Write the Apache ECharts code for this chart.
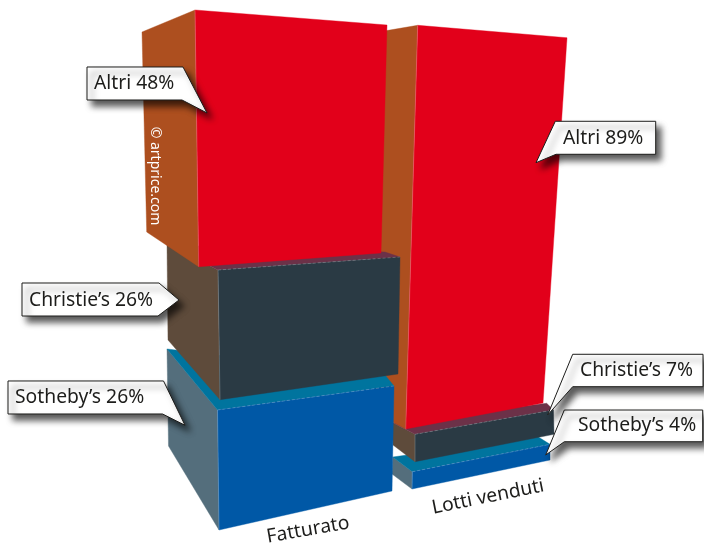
<!DOCTYPE html>
<html>
<head>
<meta charset="utf-8">
<style>html,body{margin:0;padding:0;background:#fff}#chart{width:704px;height:544px}</style>
<script src="https://cdn.jsdelivr.net/npm/echarts@6/dist/echarts.min.js"></script>
</head>
<body>
<div id="chart"></div>
<script>
// Market share of the auction houses, as exploded stacked blocks in perspective.
const categories = ['Fatturato', 'Lotti venduti'];
const houses = ['Sotheby’s', 'Christie’s', 'Altri'];
const sothebys = [26, 4];
const christies = [26, 7];
const altri = [48, 89];
const shares = [sothebys, christies, altri];

const FONT = '"Noto Sans", "Open Sans", sans-serif';

// Face colours per house: front, side, top.
const palette = [
  { front: '#0058a6', side: '#546e7c', top: '#00749e' },
  { front: '#2a3a44', side: '#5e4b3b', top: '#6c3148' },
  { front: '#e2001a', side: '#ad4f1f', top: '#6c3148' }
];

// Perspective frame of each block, indexed [column][house].
// at: shift of the front-bottom-left corner from the axis position.
// run: bottom edge of the front face. gain/lean: how the axis height is foreshortened
// on the left and right edges. depth: receding vectors for the side and top faces.
const frames = [
  [
    { at: [-1, 0], run: [173, -39], gain: [1.154, 1.01], lean: [-1.5, 2],
      depthBottom: [-50.5, -84], depthTop: [-50.5, -61], depthTopRight: [-9, -11] },
    { at: [0, -26.3], run: [178, -25.7], gain: [1.247, 1.125], lean: [-2, 2],
      depthBottom: [-52, -59.7], depthTop: [-51, -25], depthTopRight: [-15, -5] },
    { at: [-21.3, -55.3], run: [182.3, -13.7], gain: [1.337, 1.1875], lean: [-3.7, 6],
      depthBottom: [-52, -34.7], depthTop: [-53, 22] }
  ],
  [
    { at: [0, -41], run: [138, -29], gain: [1.08, 0.98], lean: [0.3, 0],
      depthBottom: [-20, -15], depthTop: [-19.6, -14.7], depthTopRight: [-12, -7.6] },
    { at: [3, -52.3], run: [139, -27.4], gain: [0.979, 0.868], lean: [0, -0.5],
      depthBottom: [-22, -16.7], depthTop: [-22, -11.6], depthTopRight: [-6.8, -6.7] },
    { at: [-6.3, -57], run: [137.3, -26], gain: [1.134, 1.026], lean: [12, 24],
      depthBottom: [-30.7, -16.5], depthTop: [-42.7, 7.3] }
  ]
];

// Paint order of the columns: the second one sits behind the first.
const columnRank = [1, 0];

// Callout outlines and text anchors, relative to the top-left corner of the block's front face.
const callouts = [
  [
    { outline: [[-209.5, -29], [-54, -29], [-32.5, 15.3], [-55, 4], [-209.5, 4]], textX: -202.5, textY: -12 },
    { outline: [[-196, 13], [-59, 13], [-39, 30], [-60, 46], [-196, 46]], textX: -189, textY: 30 },
    { outline: [[-108, 57], [-12, 57], [12, 103], [-13, 90], [-108, 90]], textX: -101, textY: 74 }
  ],
  [
    { outline: [[152, -61.7], [290.4, -61.7], [290.4, -30], [152, -30], [133.4, -16.7]], textX: 165.7, textY: -46 },
    { outline: [[157.7, -80], [288, -80], [288, -47.6], [157.7, -47.6], [132.7, -19.3]], textX: 165, textY: -64 },
    { outline: [[137.6, 96], [238, 96], [238, 129], [138.3, 129], [118.3, 137.4]], textX: 145.3, textY: 113 }
  ]
];

// Category caption: offset from the middle of the bottom edge, and its tilt in degrees.
const captions = [
  { offset: [2.5, 19.5], tilt: 10 },
  { offset: [7, 22.5], tilt: 11.4 }
];

const add = (a, b) => [a[0] + b[0], a[1] + b[1]];

function renderBlock(houseIdx) {
  return function (params, api) {
    const col = api.value(0);
    const base = api.value(1);
    const value = api.value(2);
    const f = frames[col][houseIdx];
    const colours = palette[houseIdx];
    const height = api.size([0, value])[1];

    const bl = add(api.coord([col, base]), f.at);
    const br = add(bl, f.run);
    const tl = [bl[0] + f.lean[0], bl[1] - height * f.gain[0]];
    const tr = [br[0] + f.lean[1], br[1] - height * f.gain[1]];
    const backBottom = add(bl, f.depthBottom);
    const backTop = add(tl, f.depthTop);

    const z = columnRank[col] * 30 + houseIdx * 5;
    const children = [];
    const poly = (points, fill, z2) => children.push({
      type: 'polygon', z2, shape: { points }, style: { fill, stroke: fill, lineWidth: 0.4 }
    });

    poly([tl, bl, backBottom, backTop], colours.side, z);
    if (f.depthTopRight) {
      poly([tl, tr, add(tr, f.depthTopRight), backTop], colours.top, z + 1);
    }
    poly([tl, tr, br, bl], colours.front, z + 2);

    // Pale seam along the shared edge of the side and front faces.
    children.push({
      type: 'line', z2: z + 3,
      shape: { x1: tl[0], y1: tl[1], x2: bl[0], y2: bl[1] },
      style: { stroke: 'rgba(255,255,255,0.28)', lineWidth: 0.8 }
    });
    if (f.depthTopRight) {
      children.push({
        type: 'line', z2: z + 3,
        shape: { x1: tl[0], y1: tl[1], x2: tr[0], y2: tr[1] },
        style: { stroke: 'rgba(255,255,255,0.3)', lineWidth: 0.7, lineDash: [3, 2] }
      });
    }

    // Value callout with its drop shadow.
    const c = callouts[col][houseIdx];
    children.push({
      type: 'polygon', z2: 100 + houseIdx,
      shape: { points: c.outline.map(p => add(tl, p)) },
      style: {
        fill: '#fff', stroke: '#1d1d1b', lineWidth: 1,
        shadowBlur: 6, shadowColor: 'rgba(0,0,0,0.65)', shadowOffsetX: 5, shadowOffsetY: 6
      }
    });
    children.push({
      type: 'text', z2: 110 + houseIdx,
      x: tl[0] + c.textX, y: tl[1] + c.textY,
      style: {
        text: houses[houseIdx] + ' ' + value + '%',
        fill: '#1d1d1b', font: '19.3px ' + FONT, align: 'left', verticalAlign: 'middle'
      }
    });

    // Category caption under the bottom block.
    if (houseIdx === 0) {
      const cap = captions[col];
      children.push({
        type: 'text', z2: 120,
        x: (bl[0] + br[0]) / 2 + cap.offset[0],
        y: (bl[1] + br[1]) / 2 + cap.offset[1],
        rotation: cap.tilt * Math.PI / 180,
        style: {
          text: categories[col], fill: '#1d1d1b', font: '19.3px ' + FONT,
          align: 'center', verticalAlign: 'middle'
        }
      });
    }

    // Source credit running down the side of the top block of the first column.
    if (houseIdx === 2 && col === 0) {
      children.push({
        type: 'text', z2: 120,
        x: tl[0] - 40, y: tl[1] + 166,
        rotation: -Math.PI / 2,
        style: {
          text: '© artprice.com', fill: '#fff', font: '14px ' + FONT,
          align: 'center', verticalAlign: 'middle'
        }
      });
    }

    return { type: 'group', children };
  };
}

const series = shares.map((values, h) => ({
  type: 'custom',
  name: houses[h],
  coordinateSystem: 'cartesian2d',
  renderItem: renderBlock(h),
  encode: { x: 0, y: [1, 2] },
  clip: false,
  silent: true,
  data: values.map((v, col) => {
    let base = 0;
    for (let i = 0; i < h; i++) base += shares[i][col];
    return [col, base, v];
  })
}));

const chart = echarts.init(document.getElementById('chart'), null, { renderer: 'canvas' });
chart.setOption({
  animation: false,
  backgroundColor: '#fff',
  grid: { left: 124, width: 384, top: 130, height: 400 },
  xAxis: { type: 'category', data: categories, show: false },
  yAxis: { type: 'value', min: 0, max: 100, interval: 20, show: false },
  series
});
</script>
</body>
</html>
